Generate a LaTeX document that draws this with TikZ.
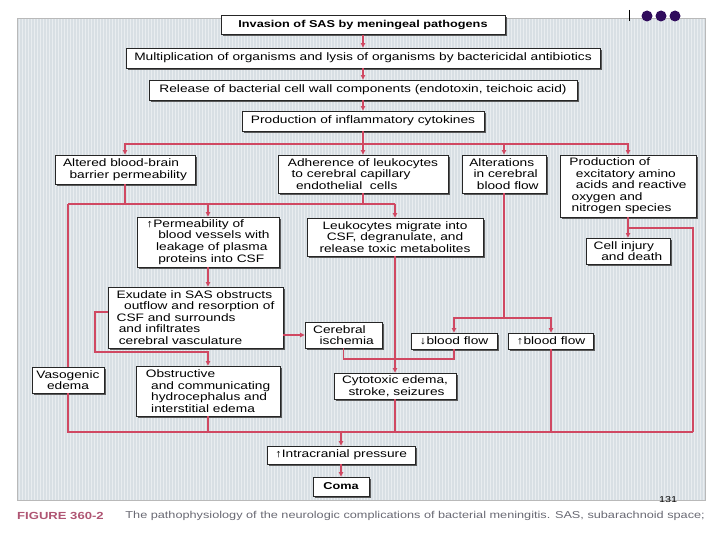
\documentclass[tikz,border=0pt]{standalone}
\usepackage{fontspec}
\setmainfont{Liberation Sans}[FakeStretch=1.27]
\usetikzlibrary{arrows.meta,shadows}
\definecolor{redl}{RGB}{208,72,98}
\definecolor{panel}{RGB}{216,223,228}
\definecolor{capgray}{RGB}{105,105,115}
\definecolor{figred}{RGB}{175,85,115}
\definecolor{dotc}{RGB}{48,12,92}
\newcommand\indt[1]{\hspace*{#1em}}
\begin{document}
\begin{tikzpicture}[x=1pt,y=-1pt,
  font=\fontsize{10.8}{11.6}\selectfont,
  box/.style={draw=black!85, line width=0.6pt, fill=white,
    drop shadow={shadow xshift=1.6pt, shadow yshift=-1.6pt, fill=black!70, opacity=0.9},
    inner sep=2pt, align=left},
  ln/.style={draw=redl, line width=1.2pt},
  arr/.style={ln, -{Triangle[length=4.5pt,width=4.2pt]}}]
\useasboundingbox (0,0) rectangle (720,540);
% panel
\fill[panel] (17,18) rectangle (705,500);
\foreach \x in {19,22,...,703} \draw[white, opacity=0.45, line width=0.7pt] (\x,18) -- (\x,500);
\draw[gray!55, line width=0.6pt] (17,18) rectangle (705,500);
% top-right marks
\draw[black, line width=0.8pt] (629,10) -- (629,21);
\fill[dotc] (647,16) circle (5.5);
\fill[dotc] (661,16) circle (5.5);
\fill[dotc] (675,16) circle (5.5);

% boxes
\node[box, font=\bfseries, minimum width=284pt, minimum height=19pt] (t) at (363,25) {Invasion of SAS by meningeal pathogens};
\node[box, minimum width=474pt, minimum height=20pt] (b2) at (363,58) {Multiplication of organisms and lysis of organisms by bactericidal antibiotics};
\node[box, minimum width=428pt, minimum height=20pt] (b3) at (363,90) {Release of bacterial cell wall components (endotoxin, teichoic acid)};
\node[box, minimum width=242pt, minimum height=20pt] (b4) at (363,121) {Production of inflammatory cytokines};
\node[box, minimum width=140pt, minimum height=29pt] (b5) at (125,169.5) {Altered blood-brain\\\indt{0.6}barrier permeability};
\node[box, minimum width=170pt, minimum height=38pt] (b6) at (363,174) {Adherence of leukocytes\\\indt{0.35}to cerebral capillary\\\indt{0.75}endothelial\ \ cells};
\node[box, minimum width=84pt, minimum height=38pt] (b7) at (504,174) {Alterations\\\indt{0.4}in cerebral\\\indt{0.7}blood flow};
\node[box, minimum width=136pt, minimum height=62pt] (b8) at (628,186) {Production of\\\indt{0.6}excitatory amino\\\indt{0.6}acids and reactive\\\indt{0.2}oxygen and\\\indt{0.2}nitrogen species};
\node[box, minimum width=142pt, minimum height=50pt] (b9) at (208,242) {↑Permeability of\\\indt{1.1}blood vessels with\\\indt{0.9}leakage of plasma\\\indt{1.1}proteins into CSF};
\node[box, align=center, minimum width=176pt, minimum height=38pt] (b10) at (395,237) {Leukocytes migrate into\\CSF, degranulate, and\\release toxic metabolites};
\node[box, minimum width=84pt, minimum height=26pt] (cell) at (628,251) {Cell injury\\\indt{0.7}and death};
\node[box, minimum width=175pt, minimum height=61pt] (b14) at (195.5,317.5) {Exudate in SAS obstructs\\\indt{0.7}outflow and resorption of\\CSF and surrounds\\\indt{0.2}and infiltrates\\\indt{0.2}cerebral vasculature};
\node[box, minimum width=77pt, minimum height=26pt] (isch) at (343.5,335) {Cerebral\\\indt{0.6}ischemia};
\node[box, minimum width=86pt, minimum height=16pt] (b11) at (454,341) {↓blood flow};
\node[box, minimum width=85pt, minimum height=16pt] (b12) at (551,341) {↑blood flow};
\node[box, align=center, minimum width=72pt, minimum height=26pt] (vas) at (68,380) {Vasogenic\\edema};
\node[box, minimum width=144pt, minimum height=50pt] (b15) at (208,391) {Obstructive\\\indt{0.5}and communicating\\\indt{0.5}hydrocephalus and\\\indt{0.5}interstitial edema};
\node[box, minimum width=122pt, minimum height=26pt] (cyto) at (395,386) {Cytotoxic edema,\\\indt{0.6}stroke, seizures};
\node[box, minimum width=148pt, minimum height=18pt] (icp) at (341,455) {↑Intracranial pressure};
\node[box, font=\bfseries, minimum width=56pt, minimum height=19pt] (coma) at (341,486.5) {Coma};

% junction coordinates
\coordinate (y1) at (0,144);
\coordinate (y2) at (0,204);
\coordinate (y3) at (0,318);
\coordinate (y4) at (0,359);
\coordinate (y5) at (0,228);
\coordinate (y6) at (0,432);
\coordinate (xr) at (693,0);
\coordinate (lpa) at (95,312);
\coordinate (lpb) at (95,352);

% connectors
\draw[arr] (t) -- (b2);
\draw[arr] (b2) -- (b3);
\draw[arr] (b3) -- (b4);
\draw[ln] (b4.south) -- (b4.south |- y1);
\draw[arr] (b4.south |- y1) -| (b5.north);
\draw[arr] (b4.south |- y1) -| (b8.north);
\draw[arr] (b4.south |- y1) -- (b6.north);
\draw[arr] (b7.north |- y1) -- (b7.north);

\draw[ln] (b5.south) -- (b5.south |- y2);
\draw[ln] (b6.south) -- (b6.south |- y2);
\draw[ln] (vas.north |- y2) -- (b10.north |- y2);
\draw[ln] (vas.north |- y2) -- (vas.north);
\draw[arr] (b9.north |- y2) -- (b9.north);
\draw[arr] (b10.north |- y2) -- (b10.north);

\draw[arr] (b9.south) -- (b9.south |- b14.north);
\draw[arr] (b14.west |- lpa) -- (lpa) -- (lpb) -| (b15.north);
\draw[arr] (b14.east |- isch.west) -- (isch.west);

\draw[arr] (b10.south) -- (cyto.north);
\draw[ln] (isch.south) |- (b11.south |- y4) -- (b11.south);

\draw[ln] (b7.south) -- (b7.south |- y3);
\draw[arr] (b7.south |- y3) -| (b11.north);
\draw[arr] (b7.south |- y3) -| (b12.north);

\draw[arr] (b8.south) -- (cell.north);
\draw[ln] (b8.south |- y5) -- (xr |- y5) -- (xr |- y6);

\draw[ln] (vas.south) -- (vas.south |- y6) -- (xr |- y6);
\draw[ln] (b15.south) -- (b15.south |- y6);
\draw[ln] (cyto.south) -- (cyto.south |- y6);
\draw[ln] (b12.south) -- (b12.south |- y6);
\draw[arr] (icp.north |- y6) -- (icp.north);
\draw[arr] (icp) -- (coma);

% caption
\node[anchor=west, inner sep=0, font=\fontsize{10.3}{12}\selectfont\bfseries, text=figred] (fig) at (17,516) {FIGURE 360-2};
\node[anchor=east, inner sep=0, font=\fontsize{10}{12}\selectfont, text=capgray] (cap) at (705,516) {The pathophysiology of the neurologic complications of bacterial meningitis. SAS, subarachnoid space;};
\node[inner sep=0, font=\fontsize{8.5}{10}\selectfont] (pg) at (668,500) {131};
\end{tikzpicture}
\end{document}
